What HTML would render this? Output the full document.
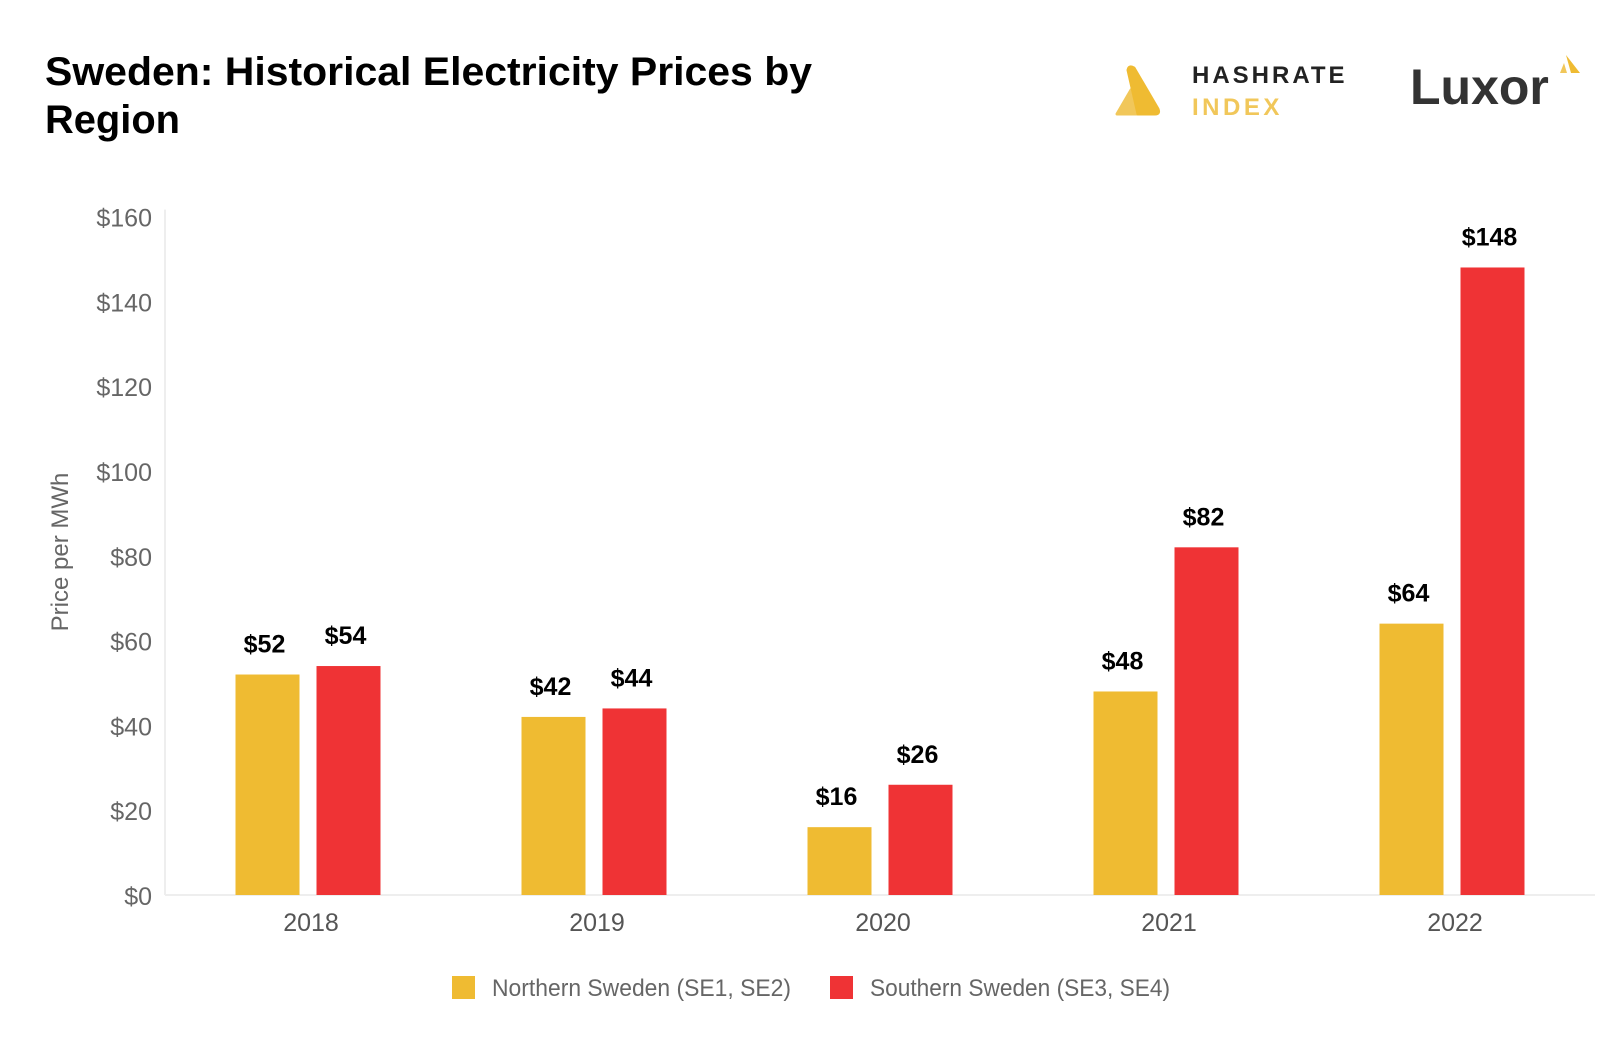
<!DOCTYPE html>
<html><head><meta charset="utf-8"><style>
html,body{margin:0;padding:0;background:#fff;}
svg{display:block;font-family:"Liberation Sans",sans-serif;}
</style></head><body>
<svg id="chart" width="1624" height="1042" viewBox="0 0 1624 1042" xmlns="http://www.w3.org/2000/svg">
<g>
<text x="45" y="85" font-size="40" font-weight="bold" fill="#000" textLength="767" lengthAdjust="spacingAndGlyphs">Sweden: Historical Electricity Prices by</text>
<text x="45" y="133" font-size="40" font-weight="bold" fill="#000" textLength="135" lengthAdjust="spacingAndGlyphs">Region</text>
</g>
<g>
<path d="M1117 114 L1131 90 Q1136 84 1139 91 L1143 114 Z" fill="#f1c75a" stroke="#f1c75a" stroke-width="3" stroke-linejoin="round"/>
<path d="M1128 70 Q1129 65 1134 68 L1158 109 Q1160 114 1155 114 L1138 114 Z" fill="#efbb32" stroke="#efbb32" stroke-width="3" stroke-linejoin="round"/>
<text x="1192" y="83" font-size="24" font-weight="bold" fill="#222" letter-spacing="3">HASHRATE</text>
<text x="1192" y="115" font-size="24" font-weight="bold" fill="#f1c75a" letter-spacing="3.5">INDEX</text>
</g>
<g>
<text x="1410" y="104" font-size="50" font-weight="bold" fill="#333">Luxor</text>
<path d="M1560 73 L1564 63 L1567 73 Z" fill="#f1c75a"/>
<path d="M1566 55 L1580 73 L1571 73 Z" fill="#efbb32"/>
</g>
<g id="axes"></g>
<g id="bars"></g>
<text transform="translate(68,552) rotate(-90)" text-anchor="middle" font-size="24" fill="#666">Price per MWh</text>
<g>
<rect x="452" y="981" width="23" height="23" fill="#efbb32" transform="translate(0,-5)"/>
<text x="492" y="996" font-size="24" fill="#666" textLength="299" lengthAdjust="spacingAndGlyphs">Northern Sweden (SE1, SE2)</text>
<rect x="830" y="976" width="23" height="23" fill="#ef3335"/>
<text x="870" y="996" font-size="24" fill="#666" textLength="300" lengthAdjust="spacingAndGlyphs">Southern Sweden (SE3, SE4)</text>
</g>
</svg>
<script>
const categories = ["2018","2019","2020","2021","2022"];
const northern = [52,42,16,48,64];
const southern = [54,44,26,82,148];
const yTicks = [0,20,40,60,80,100,120,140,160];
const yTickLabels = ["$0","$20","$40","$60","$80","$100","$120","$140","$160"];

const NS="http://www.w3.org/2000/svg";
const X0=165, BAND=286, Y0=895, K=4.24;
const xc=i=>X0+BAND*(i+0.5);
const y=v=>Y0-v*K;
function mk(tag,attrs,parent,text){const e=document.createElementNS(NS,tag);for(const k in attrs)e.setAttribute(k,attrs[k]);if(text!==undefined)e.textContent=text;parent.appendChild(e);return e;}
const axes=document.getElementById('axes'), bars=document.getElementById('bars');
let l=mk('line',{x1:X0,y1:y(160)-7,x2:X0,y2:Y0,stroke:'#eeeeee','stroke-width':2},axes);


l=mk('line',{x1:X0,y1:Y0,x2:X0+BAND*5,y2:Y0,stroke:'#eeeeee','stroke-width':2},axes);


yTicks.forEach((v,i)=>{
  const t=mk('text',{x:152,y:y(v)+10,'text-anchor':'end','font-size':25,fill:'#666'},axes,yTickLabels[i]);
  
  
});
categories.forEach((c,i)=>{
  const t=mk('text',{x:xc(i)+3,y:931,'text-anchor':'middle','font-size':25,fill:'#555'},axes,c);
  
  
  [[northern,'#efbb32',-72.5,'northern'],[southern,'#ef3335',8.5,'southern']].forEach(([arr,col,off,nm])=>{
    const v=arr[i];
    const r=mk('rect',{x:xc(i)+off,y:y(v),width:64,height:v*K,fill:col},bars);
    
    
    const lb=mk('text',{x:xc(i)+off+29,y:y(v)-22,'text-anchor':'middle','font-size':25,'font-weight':'bold',fill:'#000'},bars,'$'+v);
    
    
  });
});
</script>
</body></html>
